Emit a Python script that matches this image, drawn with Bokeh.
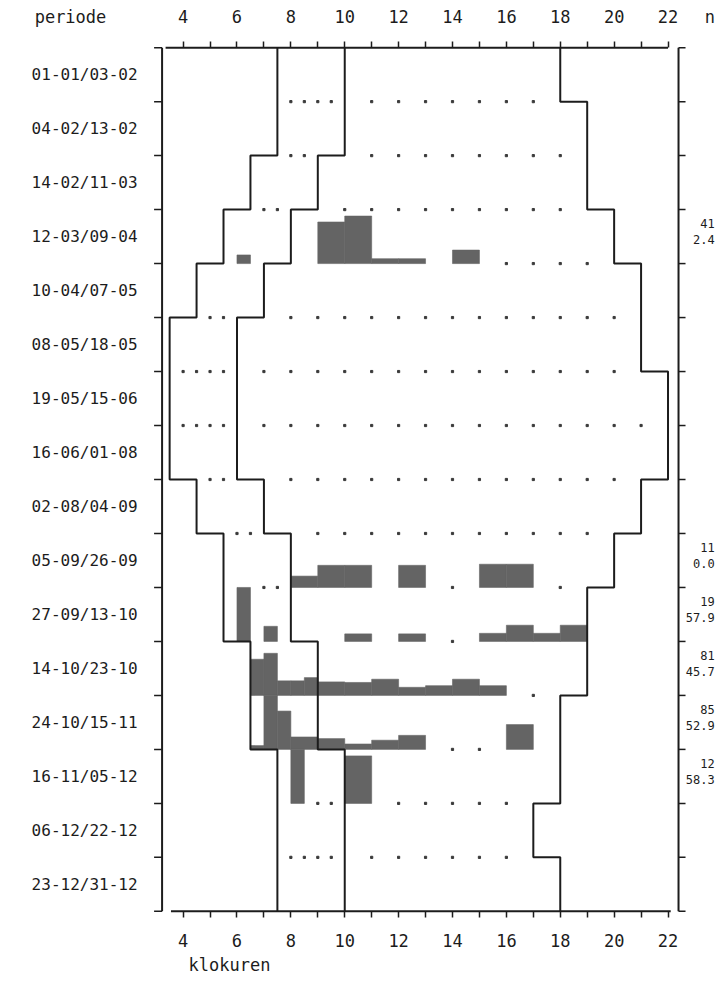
from bokeh.plotting import figure
from bokeh.models import Range1d, LinearAxis, FixedTicker, ColumnDataSource
from bokeh.core.properties import value
from bokeh.embed import file_html
from bokeh.resources import INLINE

# ---------------- data ----------------
periods = ["01-01/03-02", "04-02/13-02", "14-02/11-03", "12-03/09-04",
           "10-04/07-05", "08-05/18-05", "19-05/15-06", "16-06/01-08",
           "02-08/04-09", "05-09/26-09", "27-09/13-10", "14-10/23-10",
           "24-10/15-11", "16-11/05-12", "06-12/22-12", "23-12/31-12"]

# three stepped time lines (clock hours), one value per period
left_line = [7.5, 7.5, 6.5, 5.5, 4.5, 3.5, 3.5, 3.5, 4.5, 5.5, 5.5, 6.5, 6.5, 7.5, 7.5, 7.5]
mid_line = [10, 10, 9, 8, 7, 6, 6, 6, 7, 8, 8, 9, 9, 10, 10, 10]
right_line = [18, 19, 19, 20, 21, 21, 22, 22, 21, 20, 19, 19, 18, 18, 17, 18]

# activity histogram bars: period index, bin start, bin end, height (fraction of row)
bar_row = [3, 3, 3, 3, 3, 3,
           9, 9, 9, 9, 9, 9,
           10, 10, 10, 10, 10, 10, 10, 10,
           11, 11, 11, 11, 11, 11, 11, 11, 11, 11, 11, 11,
           12, 12, 12, 12, 12, 12, 12, 12, 12,
           13, 13]
bar_start = [6, 9, 10, 11, 12, 14,
             8, 9, 10, 12, 15, 16,
             6, 7, 10, 12, 15, 16, 17, 18,
             6.5, 7, 7.5, 8, 8.5, 9, 10, 11, 12, 13, 14, 15,
             6.5, 7, 7.5, 8, 9, 10, 11, 12, 16,
             8, 10]
bar_end = [6.5, 10, 11, 12, 13, 15,
           9, 10, 11, 13, 16, 17,
           6.5, 7.5, 11, 13, 16, 17, 18, 19,
           7, 7.5, 8, 8.5, 9, 10, 11, 12, 13, 14, 15, 16,
           7, 7.5, 8, 9, 10, 11, 12, 13, 17,
           8.5, 11]
bar_height = [0.16, 0.77, 0.88, 0.09, 0.09, 0.25,
              0.21, 0.41, 0.41, 0.41, 0.43, 0.43,
              1.0, 0.28, 0.14, 0.14, 0.15, 0.30, 0.15, 0.30,
              0.67, 0.78, 0.27, 0.27, 0.33, 0.25, 0.24, 0.30, 0.15, 0.18, 0.30, 0.18,
              0.07, 1.0, 0.71, 0.23, 0.20, 0.10, 0.17, 0.26, 0.46,
              1.0, 0.88]

# right-hand column (n and percentage)
n_row = [3, 9, 10, 11, 12, 13]
n_count = ["41", "11", "19", "81", "85", "12"]
n_pct = ["2.4", "0.0", "57.9", "45.7", "52.9", "58.3"]

hour_ticks = [4, 6, 8, 10, 12, 14, 16, 18, 20, 22]
hour_minor = list(range(4, 23))

# ---------------- layout constants (hours / rows) ----------------
X_START, X_END = -2.778, 23.911          # frame spans the full canvas width
PAD = 0.04                               # small vertical pad so frame edges do not clip rules
LEFT_RULE, RIGHT_RULE = 3.22, 22.39
PX = (X_END - X_START) / 719.0           # hours per pixel
HEAD_PERIODE_X, HEAD_N_X = -0.18, 23.55
KLOK_X = 5.72
ROWLABEL_X = 2.31
NLABEL_X = 23.73

# ---------------- derived geometry ----------------
n = len(periods)
centers = [i + 0.5 for i in range(n)]
bounds = list(range(n + 1))


def step_path(vals):
    xs, ys = [], []
    for i, v in enumerate(vals):
        xs += [v, v]
        ys += [i, i + 1]
    return xs, ys


def covered(h, b):
    for r, s, e, hh in zip(bar_row, bar_start, bar_end, bar_height):
        if r == b - 1 and s <= h <= e:
            return True
        if r == b and hh >= 0.99 and s <= h <= e:
            return True
    return False


dot_x, dot_y = [], []
for b in range(1, n):
    lo = max(left_line[b - 1], left_line[b]) + 0.5
    hi = min(mid_line[b - 1], mid_line[b]) - 0.5
    h = lo
    while h <= hi + 1e-9:
        if not covered(h, b):
            dot_x.append(h); dot_y.append(b)
        h += 0.5
    for h in range(int(max(mid_line[b - 1], mid_line[b])) + 1,
                   int(min(right_line[b - 1], right_line[b]))):
        if not covered(h, b):
            dot_x.append(h); dot_y.append(b)

bars = ColumnDataSource(dict(
    left=bar_start, right=bar_end,
    bottom=[r + 1 for r in bar_row],
    top=[r + 1 - hh for r, hh in zip(bar_row, bar_height)],
))

# ---------------- figure ----------------
font = "DejaVu Sans Mono"
ink = "#1c1c1c"

p = figure(width=719, height=977,
           x_range=Range1d(X_START, X_END), y_range=Range1d(n + PAD, -PAD),
           output_backend="svg", toolbar_location=None,
           x_axis_location=None, y_axis_location=None,
           min_border_left=0, min_border_right=0,
           min_border_top=45, min_border_bottom=63)
p.outline_line_color = None
p.grid.grid_line_color = None


def hour_axis(extra_ticks, extra_labels, standoff):
    ticks = sorted(hour_ticks + extra_ticks)
    ax = LinearAxis(ticker=FixedTicker(ticks=ticks, minor_ticks=hour_minor))
    ax.axis_line_color = None
    ax.major_tick_line_color = None
    ax.major_tick_out = 0
    ax.major_tick_in = 0
    ax.minor_tick_line_color = ink
    ax.minor_tick_line_width = 1.5
    ax.minor_tick_out = 4
    ax.minor_tick_in = 2
    ax.major_label_text_font = font
    ax.major_label_text_font_size = "17px"
    ax.major_label_text_color = ink
    ax.major_label_standoff = standoff
    labels = {h: str(h) for h in hour_ticks}
    labels.update(dict(zip(extra_ticks, extra_labels)))
    ax.major_label_overrides = labels
    return ax


p.add_layout(hour_axis([HEAD_PERIODE_X, HEAD_N_X], ["periode", "n"], 15), "above")
p.add_layout(hour_axis([], [], 16), "below")

klok = LinearAxis(ticker=FixedTicker(ticks=[KLOK_X], minor_ticks=[]))
klok.axis_line_color = None
klok.major_tick_line_color = None
klok.major_tick_out = 0
klok.major_tick_in = 0
klok.major_label_overrides = {KLOK_X: "klokuren"}
klok.major_label_text_font = font
klok.major_label_text_font_size = "17px"
klok.major_label_text_color = ink
klok.major_label_standoff = 5
p.add_layout(klok, "below")

# frame rules (top / bottom / left / right) and boundary ticks
p.segment(x0=[3.35, 3.55], y0=[0, n], x1=[22.0, 22.1], y1=[0, n], line_color=ink, line_width=2)
p.segment(x0=[LEFT_RULE, RIGHT_RULE], y0=[0, 0], x1=[LEFT_RULE, RIGHT_RULE], y1=[n, n],
          line_color=ink, line_width=2)
p.segment(x0=[LEFT_RULE] * len(bounds), y0=bounds, x1=[LEFT_RULE - 8 * PX] * len(bounds), y1=bounds,
          line_color=ink, line_width=1.5)
p.segment(x0=[RIGHT_RULE] * len(bounds), y0=bounds, x1=[RIGHT_RULE + 7 * PX] * len(bounds), y1=bounds,
          line_color=ink, line_width=1.5)

# dotted markers on the period boundaries
p.scatter(dot_x, dot_y, marker="square", size=2.2, color="#3a3a3a")

# histogram bars
p.quad(left="left", right="right", top="top", bottom="bottom", source=bars,
       fill_color="#646464", line_color="#646464", line_width=0.6)

# stepped lines
for vals in (left_line, mid_line, right_line):
    xs, ys = step_path(vals)
    p.line(xs, ys, line_color=ink, line_width=2)

# period labels
p.text(x=[ROWLABEL_X] * n, y=centers, text=periods, text_font=value(font),
       text_font_size="16px", text_color=ink, text_align="right", text_baseline="middle")

# n / percentage column
p.text(x=[NLABEL_X] * len(n_row), y=[r + 0.5 - 0.24 for r in n_row], text=n_count,
       text_font=value(font), text_font_size="12px", text_color=ink,
       text_align="right", text_baseline="middle")
p.text(x=[NLABEL_X] * len(n_row), y=[r + 0.5 + 0.05 for r in n_row], text=n_pct,
       text_font=value(font), text_font_size="12px", text_color=ink,
       text_align="right", text_baseline="middle")

open("out.html", "w").write(file_html(p, INLINE))
